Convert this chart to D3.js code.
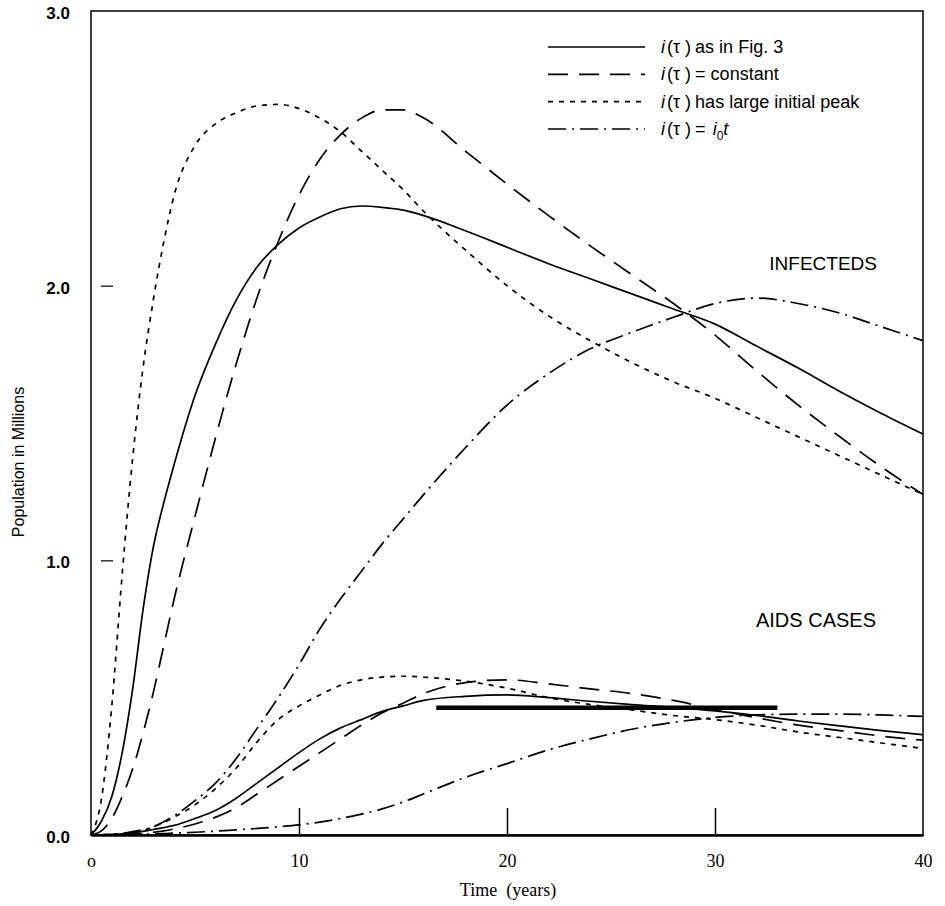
<!DOCTYPE html>
<html>
<head>
<meta charset="utf-8">
<script src="https://cdn.jsdelivr.net/npm/d3@7"></script>
<style>
  body { margin: 0; background: #fff; }
  svg { display: block; }
  .sans { font-family: "Liberation Sans", Arial, Helvetica, sans-serif; }
  .serif { font-family: "Liberation Serif", "Times New Roman", serif; }
</style>
</head>
<body>
<svg width="945" height="906"></svg>
<script>
// time axis (years) shared by all curves
const years = [0, 0.5, 1, 1.5, 2, 2.5, 3, 3.5, 4, 5, 6, 7, 8, 9, 10, 11, 12, 13, 14, 15, 16, 18, 20, 22, 24, 26, 28, 30, 32, 34, 36, 38, 40]

// INFECTEDS (millions)
const infFig3   = [0, 0.05, 0.14, 0.30, 0.53, 0.82, 1.05, 1.21, 1.35, 1.60, 1.79, 1.95, 2.07, 2.15, 2.21, 2.25, 2.28, 2.29, 2.285, 2.275, 2.255, 2.20, 2.14, 2.08, 2.025, 1.97, 1.915, 1.86, 1.78, 1.70, 1.615, 1.535, 1.46]
const infConst  = [0, 0.015, 0.06, 0.14, 0.24, 0.37, 0.52, 0.69, 0.86, 1.16, 1.45, 1.72, 1.96, 2.16, 2.33, 2.46, 2.55, 2.61, 2.64, 2.64, 2.61, 2.49, 2.37, 2.255, 2.145, 2.04, 1.935, 1.82, 1.69, 1.565, 1.45, 1.34, 1.24]
const infPeak   = [0, 0.13, 0.47, 0.95, 1.37, 1.70, 1.95, 2.16, 2.33, 2.51, 2.59, 2.63, 2.655, 2.66, 2.645, 2.61, 2.56, 2.49, 2.42, 2.35, 2.27, 2.13, 2.00, 1.89, 1.80, 1.72, 1.65, 1.59, 1.52, 1.45, 1.38, 1.31, 1.24]
const infLinear = [0, 0.001, 0.003, 0.006, 0.012, 0.02, 0.03, 0.048, 0.07, 0.125, 0.19, 0.28, 0.39, 0.50, 0.62, 0.75, 0.86, 0.96, 1.06, 1.15, 1.24, 1.41, 1.565, 1.68, 1.77, 1.83, 1.885, 1.935, 1.955, 1.935, 1.90, 1.85, 1.80]

// AIDS CASES (millions)
const aidsFig3   = [0, 0.0005, 0.002, 0.004, 0.008, 0.013, 0.02, 0.027, 0.035, 0.06, 0.09, 0.135, 0.19, 0.245, 0.30, 0.35, 0.39, 0.42, 0.45, 0.47, 0.49, 0.505, 0.51, 0.50, 0.487, 0.475, 0.465, 0.452, 0.435, 0.415, 0.397, 0.38, 0.365]
const aidsConst  = [0, 0, 0.001, 0.002, 0.003, 0.005, 0.01, 0.015, 0.022, 0.04, 0.065, 0.10, 0.15, 0.20, 0.25, 0.30, 0.35, 0.40, 0.445, 0.48, 0.515, 0.555, 0.565, 0.55, 0.532, 0.515, 0.49, 0.457, 0.427, 0.40, 0.38, 0.36, 0.345]
const aidsPeak   = [0, 0.0005, 0.002, 0.004, 0.008, 0.015, 0.03, 0.045, 0.065, 0.11, 0.17, 0.245, 0.34, 0.42, 0.47, 0.51, 0.545, 0.565, 0.575, 0.578, 0.575, 0.56, 0.535, 0.50, 0.475, 0.455, 0.435, 0.42, 0.40, 0.375, 0.355, 0.335, 0.315]
const aidsLinear = [0, 0, 0.0005, 0.001, 0.002, 0.003, 0.004, 0.005, 0.007, 0.01, 0.014, 0.019, 0.024, 0.03, 0.037, 0.047, 0.06, 0.076, 0.095, 0.12, 0.15, 0.21, 0.26, 0.31, 0.35, 0.385, 0.41, 0.428, 0.437, 0.44, 0.44, 0.437, 0.432]

// heavy horizontal bar across the AIDS curves
const barYears = [16.6, 33.0]
const barLevel = [0.463, 0.463]

// ticks
const xTicks = [0, 10, 20, 30, 40]
const xTickLabels = ['o', '10', '20', '30', '40']
const xTickMarks = [10, 20, 30]
const yTicks = [0, 1, 2, 3]
const yTickMarks = [1, 2]

// legend entries: style key + label pieces
const legendStyles = ['solid', 'long', 'dot', 'dashdot']
const legendTexts = ['as in Fig. 3', '= constant', 'has large initial peak', '= ']

const dashes = {
  solid: null,
  long: '20,11',
  dot: '5,6',
  dashdot: '18,6,2,6'
}

const svg = d3.select('svg')

// plot frame in pixels
const plotLeft = 91, plotRight = 923, plotTop = 11, plotBottom = 835

const x = d3.scaleLinear().domain([0, 40]).range([plotLeft, plotRight])
const y = d3.scaleLinear().domain([0, 3]).range([plotBottom, plotTop])

// frame (left, top, right)
svg.append('rect')
  .attr('x', plotLeft).attr('y', plotTop)
  .attr('width', plotRight - plotLeft).attr('height', plotBottom - plotTop)
  .attr('fill', 'none').attr('stroke', '#000').attr('stroke-width', 1.5)

// curves
const line = d3.line()
  .x(d => x(d[0]))
  .y(d => y(d[1]))
  .curve(d3.curveMonotoneX)

const series = [
  { values: infFig3, style: 'solid' },
  { values: infConst, style: 'long' },
  { values: infPeak, style: 'dot' },
  { values: infLinear, style: 'dashdot' },
  { values: aidsFig3, style: 'solid' },
  { values: aidsConst, style: 'long' },
  { values: aidsPeak, style: 'dot' },
  { values: aidsLinear, style: 'dashdot' }
]

svg.append('g')
  .selectAll('path')
  .data(series)
  .join('path')
  .attr('d', s => line(years.map((t, i) => [t, s.values[i]])))
  .attr('fill', 'none')
  .attr('stroke', '#000')
  .attr('stroke-width', 1.7)
  .attr('stroke-dasharray', s => dashes[s.style])

// thick bar
svg.append('path')
  .attr('d', d3.line().x(d => x(d[0])).y(d => y(d[1]))(barYears.map((t, i) => [t, barLevel[i]])))
  .attr('stroke', '#000')
  .attr('stroke-width', 4.5)

// x axis labels
const xAxis = svg.append('g')
  .attr('transform', `translate(0, ${plotBottom})`)
  .call(d3.axisBottom(x)
    .tickValues(xTicks)
    .tickFormat((d, i) => xTickLabels[i])
    .tickSize(0)
    .tickPadding(19))
xAxis.select('.domain').attr('stroke-width', 2.4)
xAxis.selectAll('text')
  .attr('class', 'serif')
  .style('font-size', '18px')
  .attr('fill', '#000')

// upward x tick marks
svg.append('g')
  .attr('transform', `translate(0, ${plotBottom})`)
  .call(d3.axisBottom(x).tickValues(xTickMarks).tickFormat('').tickSize(-27))
  .call(g => g.select('.domain').remove())
  .selectAll('line').attr('stroke-width', 1.5)

// y axis labels
const yAxis = svg.append('g')
  .attr('transform', `translate(${plotLeft}, 0)`)
  .call(d3.axisLeft(y)
    .tickValues(yTicks)
    .tickFormat(d3.format('.1f'))
    .tickSize(0)
    .tickPadding(21))
yAxis.select('.domain').remove()
yAxis.selectAll('text')
  .attr('class', 'sans')
  .attr('dy', '0.45em')
  .style('font-size', '17px')
  .style('font-weight', 'bold')
  .attr('fill', '#000')

// small detached y tick marks
svg.append('g')
  .attr('transform', `translate(${plotLeft + 10}, 0)`)
  .call(d3.axisRight(y).tickValues(yTickMarks).tickFormat('').tickSize(12))
  .call(g => g.select('.domain').remove())
  .selectAll('line').attr('stroke-width', 1.2)

// axis titles
svg.append('text')
  .attr('class', 'serif')
  .attr('x', 508)
  .attr('y', 896)
  .attr('text-anchor', 'middle')
  .style('font-size', '18px')
  .style('white-space', 'pre')
  .text('Time  (years)')

svg.append('text')
  .attr('class', 'sans')
  .attr('transform', `translate(24, ${462}) rotate(-90)`)
  .attr('text-anchor', 'middle')
  .style('font-size', '16px')
  .text('Population in Millions')

// curve group labels
svg.append('text')
  .attr('class', 'sans')
  .attr('x', 877).attr('y', 270)
  .attr('text-anchor', 'end')
  .style('font-size', '19px')
  .text('INFECTEDS')

svg.append('text')
  .attr('class', 'sans')
  .attr('x', 876).attr('y', 627)
  .attr('text-anchor', 'end')
  .style('font-size', '20px')
  .text('AIDS CASES')

// legend
const legend = svg.append('g')
const rowY = d3.scalePoint().domain(d3.range(4)).range([47, 129])

legendStyles.forEach((s, i) => {
  const ry = rowY(i)
  legend.append('line')
    .attr('x1', 548).attr('x2', 645)
    .attr('y1', ry).attr('y2', ry)
    .attr('stroke', '#000')
    .attr('stroke-width', 1.7)
    .attr('stroke-dasharray', dashes[s])

  const t = legend.append('text')
    .attr('class', 'sans')
    .attr('x', 661).attr('y', ry + 6)
    .style('font-size', '18px')
  t.append('tspan').style('font-style', 'italic').text('i')
  t.append('tspan').attr('dx', 2).text('(τ )')
  t.append('tspan').attr('dx', 4).text(legendTexts[i])
  if (s === 'dashdot') {
    t.append('tspan').attr('dx', 2).style('font-style', 'italic').text('i')
    t.append('tspan').attr('dy', 5).style('font-size', '12px').text('0')
    t.append('tspan').attr('dy', -5).style('font-style', 'italic').text('t')
  }
})
</script>
</body>
</html>
